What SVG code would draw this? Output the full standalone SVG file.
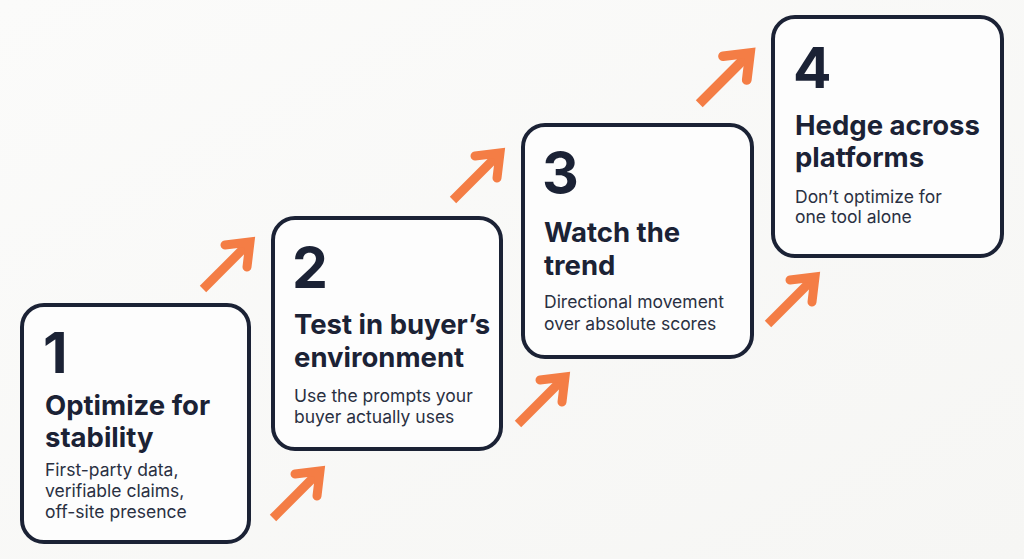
<svg xmlns="http://www.w3.org/2000/svg" width="1024" height="559" viewBox="0 0 1024 559">
  <defs>
    <linearGradient id="bg" x1="0" y1="0" x2="1" y2="1">
      <stop offset="0" stop-color="#FBFBFA"/>
      <stop offset="1" stop-color="#F6F6F4"/>
    </linearGradient>
    <g id="arrow">
      <path d="M-47,47 L-3,3" class="shaft"/>
      <path d="M-25,3 L0,0 L-3,25" class="head"/>
    </g>
  </defs>
  <style>
    .box { fill: #FDFDFD; stroke: #1B2235; stroke-width: 4; }
    .num { font-family: Inter, "Liberation Sans", sans-serif; font-weight: 700; font-size: 57px; fill: #1B2235; }
    .title { font-family: Inter, "Liberation Sans", sans-serif; font-weight: 700; font-size: 27.5px; fill: #1B2235; }
    .desc { font-family: Inter, "Liberation Sans", sans-serif; font-weight: 400; font-size: 17.5px; fill: #2A3042; }
    .shaft { fill: none; stroke: #F47D45; stroke-width: 9; stroke-linecap: butt; }
    .head { fill: none; stroke: #F47D45; stroke-width: 9; stroke-linecap: round; stroke-linejoin: miter; }
  </style>
  <rect x="0" y="0" width="1024" height="559" fill="url(#bg)"/>

  <g id="connectors">
    <use href="#arrow" transform="translate(250,242)"/>
    <use href="#arrow" transform="translate(320,471)"/>
    <use href="#arrow" transform="translate(500,153)"/>
    <use href="#arrow" transform="translate(565,377)"/>
    <use href="#arrow" transform="translate(750,53) scale(1.08)"/>
    <use href="#arrow" transform="translate(815,277)"/>
  </g>

  <g id="step1">
    <rect class="box" x="22" y="305" width="227" height="237" rx="22"/>
    <text class="num" x="43" y="373">1</text>
    <text class="title" x="45" y="415">Optimize for</text>
    <text class="title" x="45" y="447">stability</text>
    <text class="desc" x="45" y="476">First-party data,</text>
    <text class="desc" x="45" y="497">verifiable claims,</text>
    <text class="desc" x="45" y="518">off-site presence</text>
  </g>

  <g id="step2">
    <rect class="box" x="273" y="218" width="228" height="231" rx="22"/>
    <text class="num" x="292" y="288">2</text>
    <text class="title" x="294" y="334">Test in buyer’s</text>
    <text class="title" x="294" y="367">environment</text>
    <text class="desc" x="294" y="402">Use the prompts your</text>
    <text class="desc" x="294" y="423">buyer actually uses</text>
  </g>

  <g id="step3">
    <rect class="box" x="523" y="125" width="229" height="232" rx="22"/>
    <text class="num" x="542" y="193">3</text>
    <text class="title" x="544" y="242">Watch the</text>
    <text class="title" x="544" y="275">trend</text>
    <text class="desc" x="544" y="308">Directional movement</text>
    <text class="desc" x="544" y="330">over absolute scores</text>
  </g>

  <g id="step4">
    <rect class="box" x="773" y="17" width="229" height="239" rx="22"/>
    <text class="num" x="793" y="88">4</text>
    <text class="title" x="795" y="135">Hedge across</text>
    <text class="title" x="795" y="167">platforms</text>
    <text class="desc" x="795" y="203">Don’t optimize for</text>
    <text class="desc" x="795" y="223">one tool alone</text>
  </g>
</svg>
